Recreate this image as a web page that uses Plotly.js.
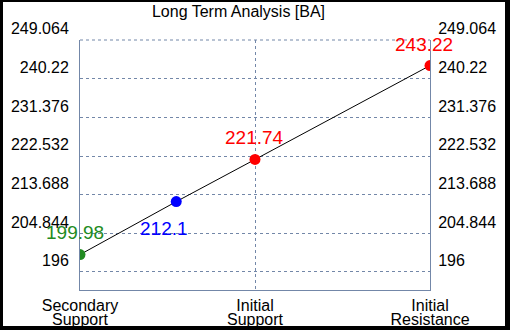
<!DOCTYPE html>
<html>
<head>
<meta charset="utf-8">
<script src="https://cdn.plot.ly/plotly-3.0.1.min.js"></script>
<style>
  html, body { margin: 0; padding: 0; background: #000; width: 510px; height: 330px; overflow: hidden; }
  #chart { position: absolute; left: 3px; top: 2px; width: 502px; height: 324px; background: #fff; }
</style>
</head>
<body>
<div id="chart"></div>
<script>
// ---- data ----
const titleText = 'Long Term Analysis [BA]';
const catPositions = [0, 1, 2];
const catLine1 = ['Secondary', 'Initial', 'Initial'];
const catLine2 = ['Support', 'Support', 'Resistance'];
const pointX = [0, 0.55, 1, 2];
const pointY = [199.98, 212.1, 221.74, 243.22];
const pointLabels = ['199.98', '212.1', '221.74', '243.22'];
const pointColors = ['#228b22', '#0000ff', '#ff0000', '#ff0000'];
const yTickVals = [196, 204.844, 213.688, 222.532, 231.376, 240.22, 249.064];
const yTickText = ['196', '204.844', '213.688', '222.532', '231.376', '240.22', '249.064'];

// ---- styling (not data) ----
const labelShiftX = [-5, -12, -1, -6];
const labelShiftY = [22, -27, 22, 21];
const gridColor = '#7387a8';
const font = 'Liberation Sans, Arial, sans-serif';
const yRange = [191.88, 249.07];

const traces = [
  {
    x: pointX, y: pointY, type: 'scatter', mode: 'lines',
    line: { color: '#000', width: 1 }, hoverinfo: 'skip', showlegend: false
  },
  {
    x: pointX, y: pointY, type: 'scatter', mode: 'markers',
    marker: { color: pointColors, size: 11 }, showlegend: false
  },
  {
    x: [pointX[0]], y: [pointY[0]], xaxis: 'x2', yaxis: 'y2', type: 'scatter',
    mode: 'markers', marker: { opacity: 0 }, hoverinfo: 'skip', showlegend: false
  }
];

const annotations = pointX.map((x, i) => ({
  x: x, y: pointY[i], xref: 'x', yref: 'y', text: pointLabels[i], showarrow: false,
  xshift: labelShiftX[i], yshift: labelShiftY[i],
  font: { family: font, size: 19, color: pointColors[i] }
}));

const layout = {
  width: 502, height: 324,
  margin: { l: 77, r: 75, t: 38, b: 36, pad: 0 },
  paper_bgcolor: '#fff', plot_bgcolor: '#fff',
  font: { family: font, size: 16, color: '#000' },
  title: {
    text: titleText, font: { family: font, size: 16, color: '#000' },
    xref: 'container', yref: 'container', x: 235.5 / 502, xanchor: 'center',
    y: 1 - 9 / 324, yanchor: 'middle'
  },
  xaxis: {
    range: [0, 2], tickmode: 'array', tickvals: catPositions, ticktext: catLine1,
    showgrid: true, gridcolor: gridColor, griddash: 'dot', gridwidth: 1,
    showline: true, linecolor: gridColor, linewidth: 1,
    zeroline: false, ticks: '', ticklabelstandoff: 1,
    tickfont: { family: font, size: 16, color: '#000' }, fixedrange: true
  },
  xaxis2: {
    overlaying: 'x', anchor: 'y', side: 'bottom', matches: 'x',
    range: [0, 2], tickmode: 'array', tickvals: catPositions, ticktext: catLine2,
    showgrid: false, showline: false, zeroline: false, ticks: '', ticklabelstandoff: 18,
    tickfont: { family: font, size: 16, color: '#000' }, fixedrange: true
  },
  yaxis: {
    range: yRange, tickmode: 'array', tickvals: yTickVals, ticktext: yTickText,
    showgrid: true, gridcolor: gridColor, griddash: 'dot', gridwidth: 1,
    showline: true, linecolor: gridColor, linewidth: 1, zeroline: false,
    ticks: '', ticklabelposition: 'outside top', ticklabelstandoff: 7,
    tickfont: { family: font, size: 16, color: '#000' }, fixedrange: true
  },
  yaxis2: {
    overlaying: 'y', side: 'right', anchor: 'x',
    range: yRange, tickmode: 'array', tickvals: yTickVals, ticktext: yTickText,
    showgrid: false, showline: true, linecolor: gridColor, linewidth: 1, zeroline: false,
    ticks: '', ticklabelposition: 'outside top', ticklabelstandoff: 4,
    tickfont: { family: font, size: 16, color: '#000' }, fixedrange: true
  },
  shapes: [
    { type: 'line', xref: 'paper', yref: 'paper', x0: 0, x1: 1, y0: 1, y1: 1,
      line: { color: gridColor, width: 1, dash: 'dot' }, layer: 'below' }
  ],
  annotations: annotations
};

Plotly.newPlot('chart', traces, layout, { displayModeBar: false, staticPlot: true });
</script>
</body>
</html>
